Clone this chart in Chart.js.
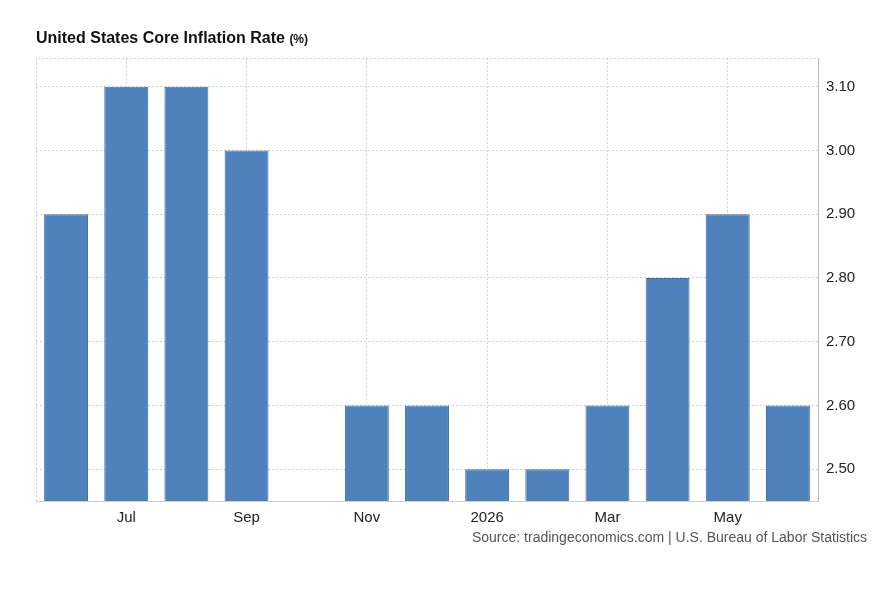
<!DOCTYPE html>
<html>
<head>
<meta charset="utf-8">
<title>United States Core Inflation Rate</title>
<script src="https://cdn.jsdelivr.net/npm/chart.js"></script>
<style>
body { margin: 0; background: #fff; font-family: "Liberation Sans", Arial, sans-serif; }
.wrap { position: relative; width: 882px; height: 603px; }
.title { position: absolute; left: 36px; top: 29px; font-size: 16px; font-weight: bold; color: #111; }
.title small { font-size: 12px; }
.source { position: absolute; right: 15px; top: 529px; font-size: 14px; color: #555; }
canvas { position: absolute; left: 0; top: 0; }
</style>
</head>
<body>
<div class="wrap">
	<canvas id="chart" width="882" height="603"></canvas>
	<div class="title">United States Core Inflation Rate <small>(%)</small></div>
	<div class="source">Source: tradingeconomics.com | U.S. Bureau of Labor Statistics</div>
</div>
<script>
const months = ['Jun', 'Jul', 'Aug', 'Sep', 'Oct', 'Nov', 'Dec', '2026', 'Feb', 'Mar', 'Apr', 'May', 'Jun'];
const rates = [2.9, 3.1, 3.1, 3.0, null, 2.6, 2.6, 2.5, 2.5, 2.6, 2.8, 2.9, 2.6];
const gridCol = '#d0d0d0';

// dotted frame on top and left of the plot
const frame = {
	id: 'frame',
	beforeDatasetsDraw(c) {
		const a = c.chartArea, g = c.ctx;
		g.save();
		g.strokeStyle = gridCol;
		g.setLineDash([2, 2]);
		g.lineWidth = 1;
		g.beginPath();
		g.moveTo(a.left + 0.5, a.bottom);
		g.lineTo(a.left + 0.5, a.top + 0.5);
		g.lineTo(a.right, a.top + 0.5);
		g.stroke();
		g.restore();
	}
};

new Chart(document.getElementById('chart'), {
	type: 'bar',
	data: {
		labels: months,
		datasets: [{
			data: rates,
			backgroundColor: '#4f81bd',
			borderColor: '#3a6db5',
			borderWidth: 1,
			borderSkipped: false,
			barPercentage: 0.73,
			categoryPercentage: 1
		}]
	},
	options: {
		responsive: false,
		animation: false,
		layout: { padding: { left: 36, top: 58, right: 0, bottom: 68 } },
		plugins: { legend: { display: false }, tooltip: { enabled: false } },
		scales: {
			x: {
				grid: {
					offset: false,
					color: ctx => ctx.index % 2 === 1 ? gridCol : 'transparent',
					drawTicks: false
				},
				border: { display: true, color: gridCol, dash: [2, 2] },
				ticks: {
					autoSkip: false,
					maxRotation: 0,
					padding: 8,
					color: '#222',
					font: { size: 15, family: '"Liberation Sans", Arial' },
					callback: (v, i) => i % 2 === 1 ? months[i] : ''
				}
			},
			y: {
				position: 'right',
				min: 2.45,
				max: 3.145,
				afterBuildTicks: ax => { ax.ticks = [2.5, 2.6, 2.7, 2.8, 2.9, 3.0, 3.1].map(v => ({ value: v })); },
				grid: { color: gridCol, drawTicks: false },
				border: { display: true, color: '#bbb', dash: [2, 2] },
				afterFit: ax => { ax.width = 64; },
				ticks: {
					padding: 8,
					color: '#222',
					font: { size: 15, family: '"Liberation Sans", Arial' },
					callback: v => v.toFixed(2)
				}
			}
		}
	},
	plugins: [frame]
});
</script>
</body>
</html>
